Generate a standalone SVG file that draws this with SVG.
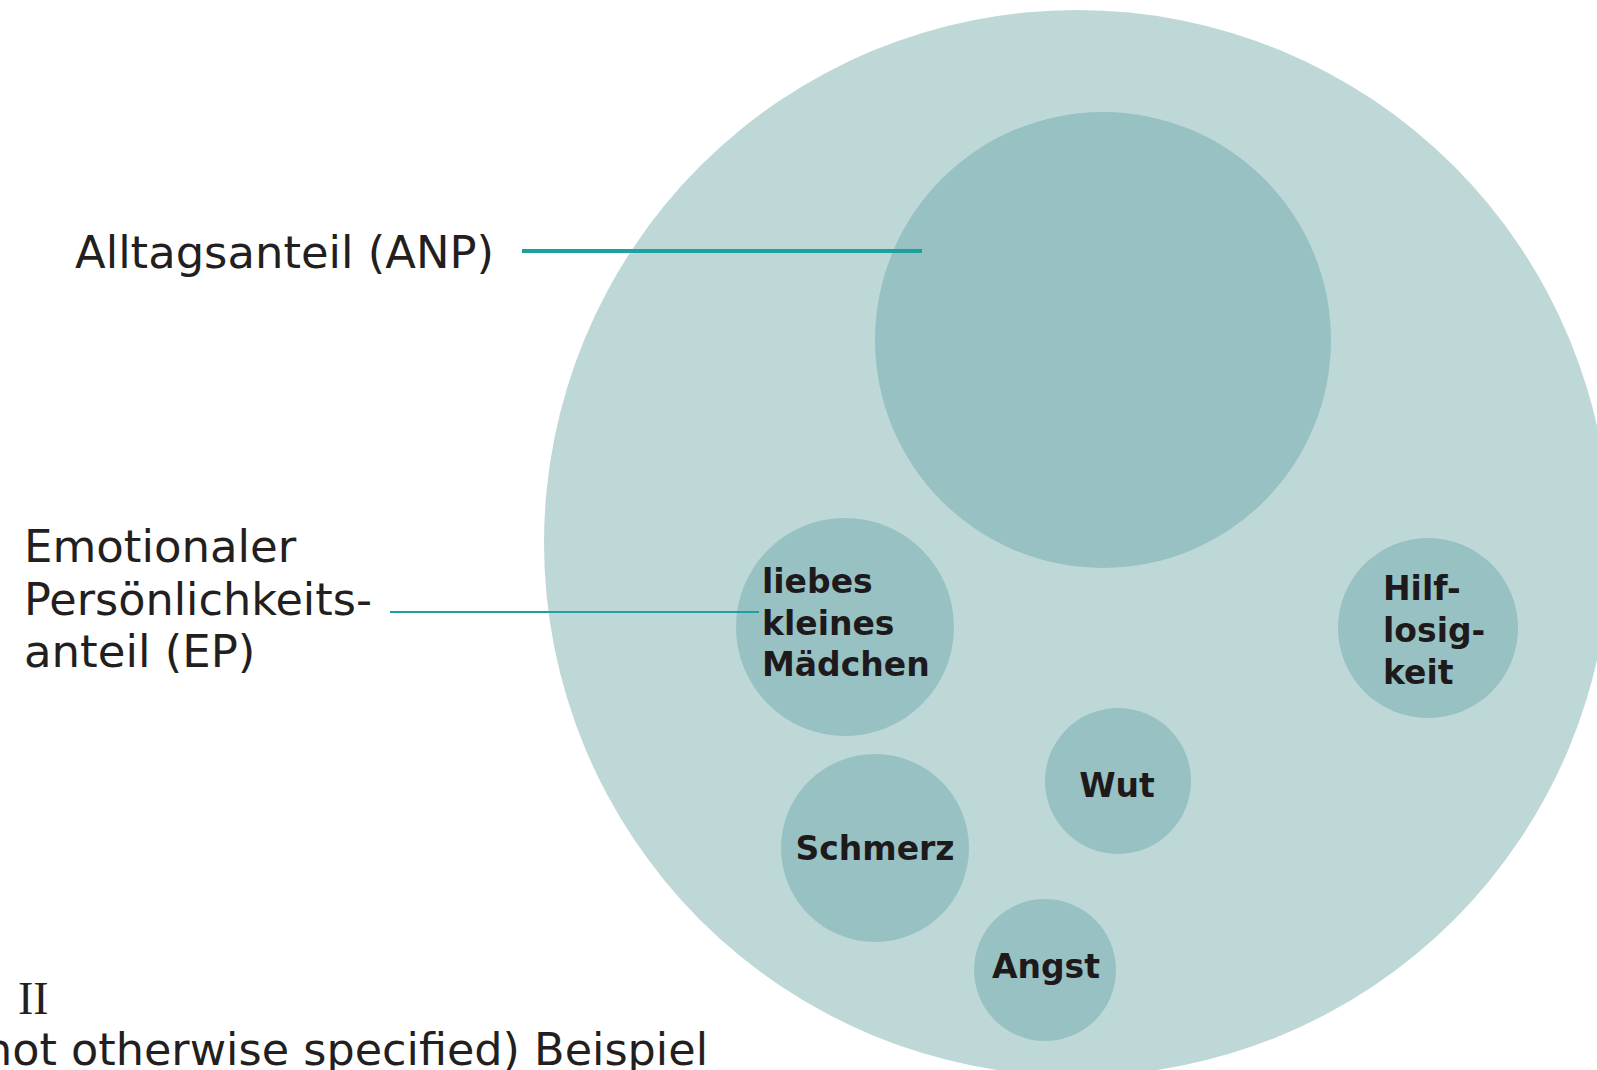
<svg xmlns="http://www.w3.org/2000/svg" width="1597" height="1070" viewBox="0 0 1597 1070">
  <style>
    .outer { fill: #bed8d8; }
    .inner { fill: #98c1c3; }
    .lbl { font-family: "DejaVu Sans", "Liberation Sans", sans-serif; font-size: 45px; fill: #231f20; }
    .node { font-family: "DejaVu Sans", "Liberation Sans", sans-serif; font-size: 33px; font-weight: bold; fill: #1e1a1b; }
    .mid { text-anchor: middle; }
    .conn { stroke: #1fa0a0; fill: none; }
  </style>
  <rect width="1597" height="1070" fill="#ffffff"/>
  <g id="person">
    <circle class="outer" cx="1077" cy="543" r="533"/>
  </g>
  <g id="anp">
    <circle class="inner" cx="1103" cy="340" r="228"/>
  </g>
  <g id="liebes">
    <circle class="inner" cx="845" cy="627" r="109"/>
    <text class="node" x="762" y="593">liebes</text>
    <text class="node" x="762" y="635">kleines</text>
    <text class="node" x="762" y="676">Mädchen</text>
  </g>
  <g id="hilflosigkeit">
    <circle class="inner" cx="1428" cy="628" r="90"/>
    <text class="node" x="1383" y="600">Hilf-</text>
    <text class="node" x="1383" y="642">losig-</text>
    <text class="node" x="1383" y="684">keit</text>
  </g>
  <g id="wut">
    <circle class="inner" cx="1118" cy="781" r="73"/>
    <text class="node mid" x="1117" y="797">Wut</text>
  </g>
  <g id="schmerz">
    <circle class="inner" cx="875" cy="848" r="94"/>
    <text class="node mid" x="875" y="860">Schmerz</text>
  </g>
  <g id="angst">
    <circle class="inner" cx="1045" cy="970" r="71"/>
    <text class="node mid" x="1046" y="978">Angst</text>
  </g>
  <g id="label-anp">
    <text class="lbl" x="75" y="268" textLength="419" lengthAdjust="spacingAndGlyphs">Alltagsanteil (ANP)</text>
  </g>
  <g id="label-ep">
    <text class="lbl" x="24" y="562">Emotionaler</text>
    <text class="lbl" x="24" y="615" textLength="348" lengthAdjust="spacingAndGlyphs">Persönlichkeits-</text>
    <text class="lbl" x="24" y="667">anteil (EP)</text>
  </g>
  <g id="caption">
    <text x="18" y="1014" style="font-family: 'Liberation Serif', serif; font-size: 46px; fill: #231f20;">II</text>
    <text class="lbl" x="-16" y="1065" textLength="724" lengthAdjust="spacingAndGlyphs">not otherwise specified) Beispiel</text>
  </g>
  <g id="connectors">
    <line class="conn" x1="522" y1="251" x2="922" y2="251" stroke-width="4"/>
    <line class="conn" x1="390" y1="612" x2="759" y2="612" stroke-width="2.2"/>
  </g>
</svg>
